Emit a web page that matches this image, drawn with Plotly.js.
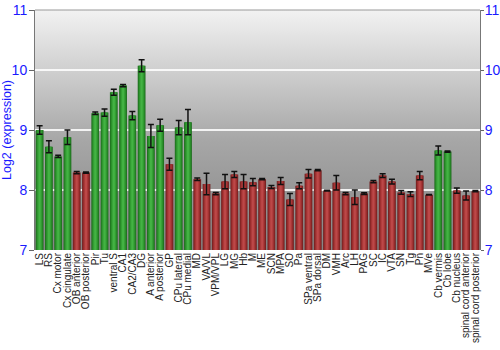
<!DOCTYPE html>
<html>
<head>
<meta charset="utf-8">
<script src="https://cdn.plot.ly/plotly-3.0.1.min.js"></script>
<style>html,body{margin:0;padding:0;background:#fff;}#chart{width:500px;height:350px;}</style>
</head>
<body>
<div id="chart"></div>
<script>
const categories = ["LS","RS","Cx motor","Cx cingulate","OB anterior","OB posterior","Pir","Tu","ventral S","CA1","CA2/CA3","DG","A anterior","A posterior","GP","CPu lateral","CPu medial","MD","VA/VL","VPM/VPL","LG","MG","Hb","M","ME","SCN","MPA","SO","Pa","SPa ventral","SPa dorsal","DM","VMH","Arc","LH","PAG","SC","IC","VTA","SN","Tg","Pn","MVe","Cb vermis","Cb lobe","Cb nucleus","spinal cord anterior","spinal cord posterior"];
const values = [9.00,8.72,8.56,8.88,8.29,8.29,9.28,9.29,9.63,9.74,9.24,10.07,8.90,9.08,8.43,9.04,9.13,8.18,8.10,7.94,8.14,8.26,8.14,8.13,8.18,8.05,8.15,7.84,8.07,8.27,8.33,7.99,8.12,7.94,7.88,7.94,8.14,8.24,8.14,7.96,7.93,8.24,7.92,8.66,8.64,7.99,7.91,7.98];
const errors = [0.07,0.10,0.02,0.12,0.02,0.01,0.02,0.06,0.05,0.02,0.07,0.10,0.19,0.10,0.10,0.12,0.21,0.02,0.18,0.02,0.12,0.05,0.12,0.06,0.01,0.025,0.06,0.10,0.05,0.07,0.01,0.005,0.12,0.02,0.12,0.015,0.02,0.03,0.04,0.03,0.04,0.07,0.005,0.075,0.01,0.045,0.075,0.01];
const enriched = [1,1,1,1,0,0,1,1,1,1,1,1,1,1,0,1,1,0,0,0,0,0,0,0,0,0,0,0,0,0,0,0,0,0,0,0,0,0,0,0,0,0,0,1,1,0,0,0];

const shades = {
  green: ["#1e6c1e","#288a28","#35a035","#44b244"],
  red:   ["#702020","#922a2a","#aa3838","#bc4848"]
};
const widths = [0.84,0.68,0.46,0.22];
const traces = widths.map((w,i)=>({
  type:"bar", x:categories, y:values, base:0,
  width:w,
  marker:{color:enriched.map(e=>e?shades.green[i]:shades.red[i]), line:{width:0}},
  hoverinfo:"skip", showlegend:false
}));
traces.push({
  type:"scatter", mode:"markers", x:categories, y:values,
  marker:{size:1,color:"rgba(0,0,0,0)"},
  error_y:{type:"data", array:errors, visible:true, color:"#111", thickness:1.5, width:3},
  hoverinfo:"skip", showlegend:false
});
traces.push({
  type:"scatter", mode:"markers", x:categories, y:values, yaxis:"y2",
  marker:{size:1,color:"rgba(0,0,0,0)"}, hoverinfo:"skip", showlegend:false
});

const grad = 'data:image/svg+xml;utf8,' + encodeURIComponent(
 '<svg xmlns="http://www.w3.org/2000/svg" width="10" height="100" preserveAspectRatio="none"><defs><linearGradient id="g" x1="0" y1="0" x2="0" y2="1"><stop offset="0" stop-color="#f2f2f2"/><stop offset="0.55" stop-color="#a6a6a6"/><stop offset="1" stop-color="#858585"/></linearGradient></defs><rect width="10" height="100" fill="url(#g)"/></svg>');

const tickFont = {family:"Liberation Sans, Arial, sans-serif", size:14, color:"#1a1aff"};
const layout = {
  width:500, height:350,
  margin:{l:35, r:20, t:10, b:100, pad:0},
  paper_bgcolor:"#ffffff", plot_bgcolor:"rgba(0,0,0,0)",
  barmode:"overlay", bargap:0.17,
  font:{family:"Liberation Sans, Arial, sans-serif"},
  images:[{source:grad, xref:"paper", yref:"paper", x:0, y:1, sizex:1, sizey:1, sizing:"stretch", layer:"below"}],
  xaxis:{type:"category", tickmode:"array", tickvals:categories, ticktext:categories, tickangle:-90,
         tickfont:{size:10, color:"#222"}, ticks:"", showline:false, showgrid:false, automargin:false, range:[-0.5,47.5]},
  yaxis:{range:[7,11], dtick:1, tick0:7, showgrid:true, gridcolor:"rgba(255,255,255,0.85)", gridwidth:1.5, zeroline:false,
         ticks:"outside", ticklen:5, tickcolor:"#666", showline:true, linecolor:"#777", linewidth:1,
         tickfont:tickFont, ticklabelstandoff:-1, automargin:false,
         title:{text:"Log2 (expression)", font:{size:12.5, color:"#1a1aff"}, standoff:6}},
  yaxis2:{range:[7,11], dtick:1, tick0:7, overlaying:"y", side:"right", showgrid:false, zeroline:false,
          ticks:"outside", ticklen:3, tickcolor:"#666", showline:true, linecolor:"#777", linewidth:1,
          tickfont:tickFont, ticklabelstandoff:-2, automargin:false},
  shapes:[{type:"line", xref:"paper", yref:"paper", x0:0, x1:1, y0:1, y1:1, line:{color:"#999", width:1}}]
};
Plotly.newPlot("chart", traces, layout, {staticPlot:true, displayModeBar:false});
</script>
</body>
</html>
